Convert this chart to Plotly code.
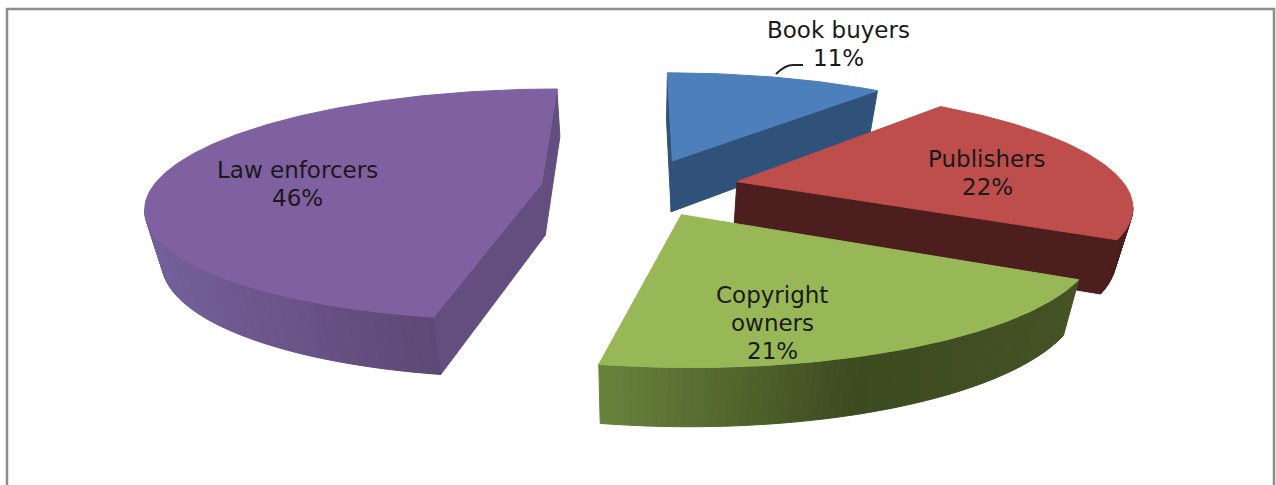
import numpy as np
import plotly.graph_objects as go

# clockwise from the top of the pie
categories = ["Book buyers", "Publishers", "Copyright owners", "Law enforcers"]
shares = [11, 22, 21, 46]

# label lines, broken by hand like in the original
label_lines = [["Book buyers", "11%"], ["Publishers", "22%"], ["Copyright", "owners", "21%"], ["Law enforcers", "46%"]]
label_x = [838, 987, 772, 297]
label_y = [30, 159, 295, 170]
LINE_GAP = 28

top_colors = ["#4d7fba", "#bd4e4b", "#98b858", "#7f60a0"]
cut_colors = ["#30527a", "#4c1e1d", "#3f4c22", "#644e80"]
# wall gradient stops, left to right on screen
wall_stops = [
    [(0.0, "#30527a"), (1.0, "#30527a")],
    [(0.0, "#4c1e1d"), (1.0, "#4c1e1d")],
    [(0.0, "#6a843c"), (0.55, "#3c4a20"), (1.0, "#445224")],
    [(0.0, "#76609a"), (0.5, "#644e80"), (1.0, "#54406a")],
]

# projection of the tilted pie
CX, CY = 640, 187
RADIUS, TILT, DEPTH = 389, 113, 52
PERSPECTIVE = 0.184
PULL = 0.256
WALL_LEAN = 0.035


def warp(theta):
    # the original's camera squeezes the front left of the pie a little
    return theta - np.radians(3.8) * np.exp(-((theta - np.radians(194)) / np.radians(45)) ** 2)


def project(x, y, drop=0.0):
    s = 1 / (1 + PERSPECTIVE * y)
    # walls lean inwards towards the bottom
    return CX + RADIUS * x * s * (1 - WALL_LEAN * drop), CY - TILT * y * s + DEPTH * drop * np.sqrt(s)


def mix(stops, t):
    for (t0, c0), (t1, c1) in zip(stops, stops[1:]):
        if t <= t1:
            f = (t - t0) / (t1 - t0)
            a = [int(c0[i:i + 2], 16) for i in (1, 3, 5)]
            b = [int(c1[i:i + 2], 16) for i in (1, 3, 5)]
            return "rgb(%d,%d,%d)" % tuple(round(p + (q - p) * f) for p, q in zip(a, b))
    return stops[-1][1]


def polygon(fig, xs, ys, color):
    fig.add_trace(go.Scatter(
        x=xs, y=ys, mode="lines", fill="toself", fillcolor=color,
        line=dict(color=color, width=1), hoverinfo="skip", showlegend=False,
    ))


fig = go.Figure()

edges = np.cumsum([0] + shares) / sum(shares) * 2 * np.pi
for i in range(len(shares)):
    start, end = edges[i], edges[i + 1]
    mid = (start + end) / 2
    ox, oy = PULL * np.sin(mid), PULL * np.cos(mid)
    theta = warp(np.linspace(start, end, int(shares[i] * 4) + 2))
    rim_x = ox + np.sin(theta)
    rim_y = oy + np.cos(theta)

    # flat cut faces, only those turned towards the viewer
    for (ax, ay), (bx, by) in [((ox, oy), (rim_x[0], rim_y[0])), ((rim_x[-1], rim_y[-1]), (ox, oy))]:
        x0, y0 = project(ax, ay)
        x1, y1 = project(bx, by)
        if x1 < x0:
            x2, y2 = project(bx, by, 1)
            x3, y3 = project(ax, ay, 1)
            polygon(fig, [x0, x1, x2, x3, x0], [y0, y1, y2, y3, y0], cut_colors[i])

    # curved outer wall in thin strips so it can carry the gradient
    sx, _ = project(rim_x, rim_y)
    for j in range(len(theta) - 1):
        if sx[j + 1] < sx[j]:
            x0, y0 = project(rim_x[j], rim_y[j])
            x1, y1 = project(rim_x[j + 1], rim_y[j + 1])
            x2, y2 = project(rim_x[j + 1], rim_y[j + 1], 1)
            x3, y3 = project(rim_x[j], rim_y[j], 1)
            t = float((sx[j] - sx.min()) / (sx.max() - sx.min()))
            polygon(fig, [x0, x1, x2, x3, x0], [y0, y1, y2, y3, y0], mix(wall_stops[i], t))

    # top face
    tx, ty = project(np.r_[ox, rim_x, ox], np.r_[oy, rim_y, oy])
    polygon(fig, tx, ty, top_colors[i])

for lines, x, y in zip(label_lines, label_x, label_y):
    for n, line in enumerate(lines):
        fig.add_annotation(x=x, y=y + n * LINE_GAP, text=line, showarrow=False,
                           font=dict(family="DejaVu Sans", size=23, color="#1a1a1a"))

# leader line of the book buyers label and the chart frame
fig.add_shape(type="path", path="M 776 74 Q 785 65 793 65 L 803 65", line=dict(color="#222222", width=2))
fig.add_shape(type="path", path="M 7 500 L 7 9 L 1274 9 L 1274 500", line=dict(color="#8c8c8c", width=2.5))

fig.update_layout(
    width=1276, height=485,
    margin=dict(l=0, r=0, t=0, b=0),
    paper_bgcolor="white", plot_bgcolor="white",
    xaxis=dict(range=[0, 1276], visible=False),
    yaxis=dict(range=[485, 0], visible=False),
)
# page margin would push the figure 8px off
fig.write_html("out.html", config=dict(displayModeBar=False), post_script="document.body.style.margin='0';")
